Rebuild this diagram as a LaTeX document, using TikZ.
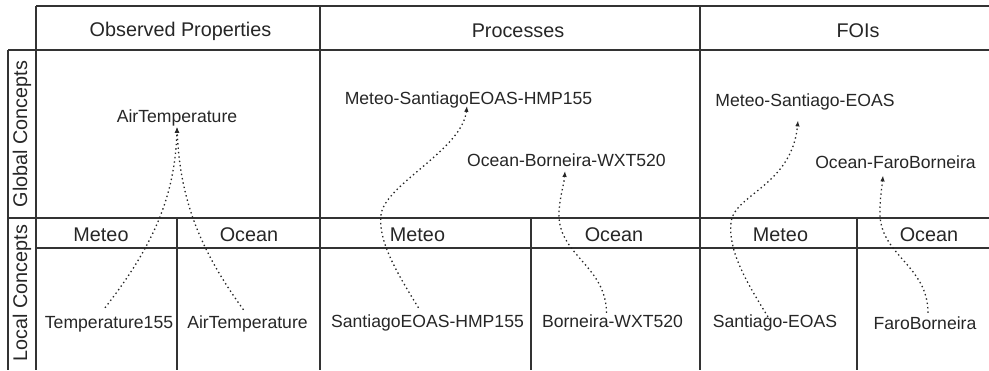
\documentclass[tikz,border=0pt]{standalone}
\usepackage{fontspec}
\setmainfont{Liberation Sans}
\usetikzlibrary{arrows.meta,calc}

\begin{document}
\begin{tikzpicture}[x=1pt,y=-1pt,
  grid/.style={line width=1.4pt, draw=black!80},
  head/.style={font=\fontsize{19.8}{22}\selectfont, text=black!85, anchor=base, inner sep=0pt},
  side/.style={font=\fontsize{19.8}{22}\selectfont, text=black!85, rotate=90, inner sep=0pt},
  concept/.style={font=\fontsize{17.6}{20}\selectfont, text=black!85, anchor=base,
    inner sep=2.5pt, text height=0.75em, text depth=0.22em},
  link/.style={line width=1.3pt, draw=black!85, dash pattern=on 1.4pt off 3pt,
    -{Latex[length=6pt,width=4.5pt]}}]

\useasboundingbox (0,0) rectangle (989,370);

% table frame
\draw[grid] (36,6) -- (989,6);
\draw[grid] (8,50) -- (989,50);
\draw[grid] (8,218) -- (989,218);
\draw[grid] (36,248) -- (989,248);
\draw[grid] (8,50) -- (8,370);
\draw[grid] (36,6) -- (36,370);
\draw[grid] (320,6) -- (320,370);
\draw[grid] (700,6) -- (700,370);
\draw[grid] (177,218) -- (177,370);
\draw[grid] (531,218) -- (531,370);
\draw[grid] (857,218) -- (857,370);

% column headers
\node[head] (hOP)  at (180.5,36) {Observed Properties};
\node[head] (hPR)  at (518,37)   {Processes};
\node[head] (hFOI) at (858,37)   {FOIs};

% row headers
\node[side] (rGlobal) at (22,134) {Global Concepts};
\node[side] (rLocal)  at (22,293) {Local Concepts};

% sub-column headers
\node[head] (mOP)  at (101,241)   {Meteo};
\node[head] (oOP)  at (249,241)   {Ocean};
\node[head] (mPR)  at (417.5,241) {Meteo};
\node[head] (oPR)  at (614,241)   {Ocean};
\node[head] (mFOI) at (780.5,241) {Meteo};
\node[head] (oFOI) at (929,241)   {Ocean};

% global concepts
\node[concept] (gAT)   at (177,122)   {AirTemperature};
\node[concept] (gHMP)  at (468.5,104) {Meteo-SantiagoEOAS-HMP155};
\node[concept] (gWXT)  at (566.5,166) {Ocean-Borneira-WXT520};
\node[concept] (gEOAS) at (805,106)   {Meteo-Santiago-EOAS};
\node[concept] (gFaro) at (895.5,168) {Ocean-FaroBorneira};

% local concepts
\node[concept] (lT155) at (109,328)   {Temperature155};
\node[concept] (lAT)   at (247.5,328) {AirTemperature};
\node[concept] (lHMP)  at (427.5,327) {SantiagoEOAS-HMP155};
\node[concept] (lWXT)  at (612.5,327) {Borneira-WXT520};
\node[concept] (lEOAS) at (775,327)   {Santiago-EOAS};
\node[concept] (lFaro) at (925,329)   {FaroBorneira};

% mappings from local to global concepts
\draw[link] ($(lT155.north)+(-4,-10)$) .. controls (150,250) and (175,200) .. (gAT.south);
\draw[link] ($(lAT.north)+(-4,-8)$) .. controls (200,250) and (180,200) .. (gAT.south);
\draw[link] ($(lHMP.north)+(-9,-9)$) .. controls (395,270) and (378,240) .. (381,215)
  .. controls (384,185) and (462,150) .. ($(gHMP.south)+(-1.5,-3)$);
\draw[link] ($(lWXT.north)+(-6,-4)$) .. controls (606,265) and (557,255) .. (559,212)
  .. controls (560,195) and (564,185) .. ($(gWXT.south)+(-1.5,0)$);
\draw[link] ($(lEOAS.north)+(-7,0)$) .. controls (745,280) and (728,250) .. (731,222)
  .. controls (734,195) and (792,185) .. ($(gEOAS.south)+(-7,9.5)$);
\draw[link] ($(lFaro.north)+(3,-6)$) .. controls (928,265) and (879,255) .. (880,212)
  .. controls (880,195) and (882,188) .. ($(gFaro.south)+(-12.5,2.5)$);

\end{tikzpicture}
\end{document}
